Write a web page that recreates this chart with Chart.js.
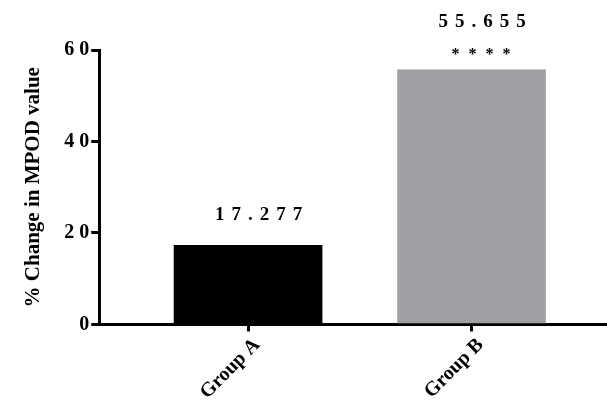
<!DOCTYPE html>
<html>
<head>
<meta charset="utf-8">
<script src="https://cdn.jsdelivr.net/npm/chart.js@4"></script>
<style>
	body { margin: 0; background: #fff; }
</style>
</head>
<body>
<canvas id="chart" width="607" height="401"></canvas>
<script>
const groups = ['Group A', 'Group B'];
const groupPos = [1, 2];
const changeValues = [17.277, 55.655];
const significance = ['', '****'];
const yTicks = [0, 20, 40, 60];

const serif = "'Liberation Serif', 'Times New Roman', serif";

// values and stars above each bar
const barLabels = {
	id: 'barLabels',
	afterDatasetsDraw(chart) {
		const ctx = chart.ctx;
		const bars = chart.getDatasetMeta(0).data;
		ctx.save();
		ctx.fillStyle = '#000';
		ctx.textAlign = 'center';
		ctx.textBaseline = 'middle';
		bars.forEach((bar, i) => {
			const hasStars = significance[i] !== '';
			ctx.font = `bold 19px ${serif}`;
			ctx.letterSpacing = '7px';
			const valueY = bar.y - (hasStars ? 48 : 30);
			ctx.fillText(changeValues[i].toFixed(3), bar.x + 14, valueY);
			if (hasStars) {
				ctx.font = `bold 16px ${serif}`;
				ctx.letterSpacing = '9px';
				ctx.fillText(significance[i], bar.x + 14, bar.y - 15);
			}
		});
		ctx.restore();
	},
};

const data = {
	datasets: [
		{
			data: groupPos.map((x, i) => ({ x, y: changeValues[i] })),
			backgroundColor: ['#000000', '#a0a0a4'],
			borderWidth: 0,
			barThickness: 148,
		},
	],
};

const config = {
	type: 'bar',
	data: data,
	options: {
		responsive: false,
		animation: false,
		layout: {
			padding: { top: 50, left: 21, right: 0, bottom: -5 },
		},
		plugins: {
			legend: { display: false },
			tooltip: { enabled: false },
		},
		scales: {
			x: {
				type: 'linear',
				offset: false,
				min: 0.334,
				max: 2.606,
				afterBuildTicks: (axis) => {
					axis.ticks = groupPos.map((v) => ({ value: v }));
				},
				ticks: {
					autoSkip: false,
					minRotation: 45,
					maxRotation: 45,
					padding: 2,
					labelOffset: 9,
					color: '#000',
					font: { family: serif, size: 20, weight: 'bold' },
					callback: (v) => groups[groupPos.indexOf(v)] || '',
				},
				grid: {
					display: true,
					offset: false,
					drawOnChartArea: false,
					drawTicks: true,
					tickLength: 7,
					color: '#000',
					lineWidth: 3,
				},
				border: { display: true, color: '#000', width: 3 },
			},
			y: {
				min: 0,
				max: 60,
				afterBuildTicks: (axis) => {
					axis.ticks = yTicks.map((v) => ({ value: v }));
				},
				ticks: {
					padding: 2,
					color: '#000',
					font: { family: serif, size: 20, weight: 'bold' },
					callback: (v) => String(v).split('').join(' '),
				},
				grid: {
					display: true,
					drawOnChartArea: false,
					drawTicks: true,
					tickLength: 8,
					color: '#000',
					lineWidth: 3,
				},
				border: { display: true, color: '#000', width: 3 },
				title: {
					display: true,
					text: '% Change in MPOD value',
					color: '#000',
					padding: { top: 0, bottom: 16 },
					font: { family: serif, size: 21, weight: 'bold' },
				},
			},
		},
	},
	plugins: [barLabels],
};

const ctx = document.querySelector('#chart').getContext('2d');
const myChart = new Chart(ctx, config);
</script>
</body>
</html>
